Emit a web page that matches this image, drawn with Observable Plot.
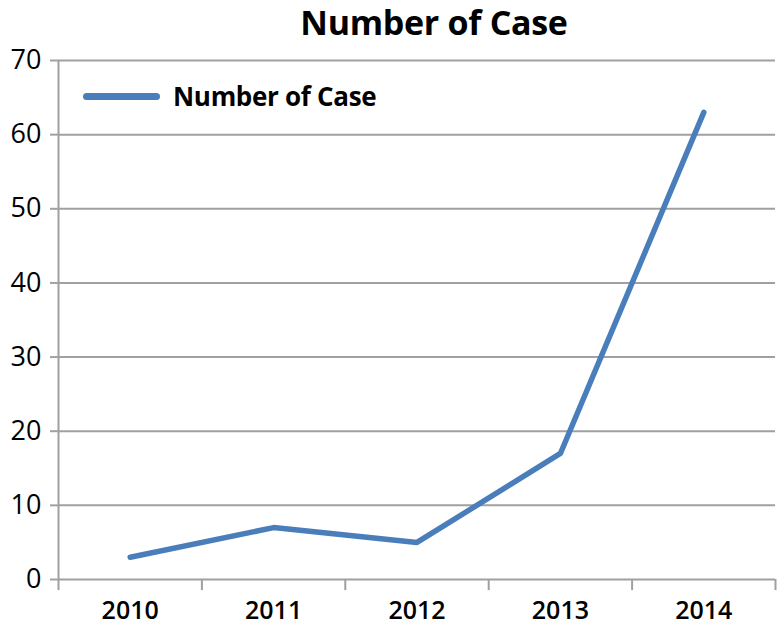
<!DOCTYPE html>
<html>
<head>
<meta charset="utf-8">
<script src="https://cdn.jsdelivr.net/npm/d3@7"></script>
<script src="https://cdn.jsdelivr.net/npm/@observablehq/plot@0.6"></script>
<style>
  body { margin: 0; background: #fff; font-family: "Open Sans", sans-serif; }
  #wrap { position: relative; width: 780px; height: 634px; overflow: hidden; }
  #title { height: 40px; position: relative; }
  #title span { position: absolute; left: 434px; top: 0px; line-height: 44px; transform: translateX(-50%); font-size: 34px; font-weight: 700; white-space: nowrap; color: #000; letter-spacing: -0.3px; }
  #legend { position: absolute; left: 83px; top: 78px; display: flex; align-items: center; }
  #legend .sw { width: 77px; height: 7px; border-radius: 3.5px; background: #4a7ebb; margin-right: 13px; }
  #legend .lb { font-size: 26px; font-weight: 700; color: #000; white-space: nowrap; letter-spacing: -0.3px; }
</style>
</head>
<body>
<div id="wrap">
  <div id="title"><span>Number of Case</span></div>
  <div id="chart"></div>
  <div id="legend"><div class="sw"></div><div class="lb">Number of Case</div></div>
</div>
<script>
const years = [2010, 2011, 2012, 2013, 2014];
const cases = [3, 7, 5, 17, 63];
const yTicks = [0, 10, 20, 30, 40, 50, 60, 70];
const xBounds = [2009.5, 2010.5, 2011.5, 2012.5, 2013.5, 2014.5];

const data = years.map((y, i) => ({year: y, value: cases[i]}));
const grid = "#a0a0a0";

const chart = Plot.plot({
  width: 780,
  height: 594,
  marginTop: 20,
  marginBottom: 55,
  marginLeft: 58,
  marginRight: 5,
  style: {fontFamily: "Open Sans, sans-serif", color: "#000", background: "#fff"},
  x: {domain: [2009.5, 2014.5]},
  y: {domain: [0, 70]},
  marks: [
    Plot.ruleY(yTicks, {stroke: grid, strokeWidth: 2}),
    Plot.ruleX([xBounds[0]], {y1: 0, y2: 70, stroke: grid, strokeWidth: 2}),
    Plot.ruleX(xBounds, {y1: 0, y2: -1.5, stroke: grid, strokeWidth: 2}),
    Plot.axisY({ticks: yTicks, tickSize: 8, tickPadding: 9, fontSize: 27, stroke: grid, strokeWidth: 2, label: null, tickFormat: d => String(d)}),
    Plot.axisX({ticks: years, tickSize: 0, tickPadding: 22, fontSize: 25, fontWeight: 600, label: null, tickFormat: d => String(d)}),
    Plot.line(data, {x: "year", y: "value", stroke: "#4a7ebb", strokeWidth: 5.5, strokeLinejoin: "round", strokeLinecap: "round"})
  ]
});
document.getElementById("chart").appendChild(chart);
</script>
</body>
</html>
